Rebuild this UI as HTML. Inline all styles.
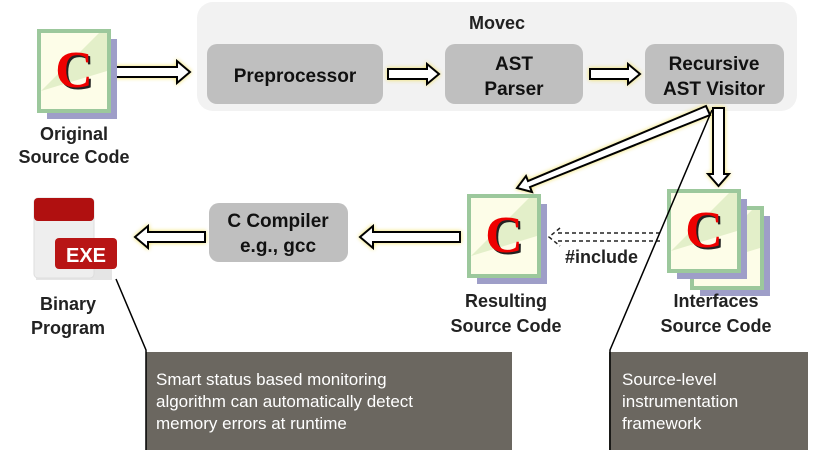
<!DOCTYPE html>
<html><head><meta charset="utf-8"><style>
body{margin:0;background:#fff;width:819px;height:450px;overflow:hidden}
svg text{font-family:"Liberation Sans","DejaVu Sans",sans-serif}
svg text.c{font-family:"Liberation Serif",serif}
</style></head><body>
<svg width="819" height="450" viewBox="0 0 819 450" xmlns="http://www.w3.org/2000/svg">
<defs>
<g id="cdoc">
  <rect x="8" y="8" width="70" height="80" fill="#9e9ec8"/>
  <rect x="0" y="0" width="70" height="80" fill="#fdfde8" stroke="#9cc89c" stroke-width="4"/>
  <path d="M2 60 L60 2 L68 2 L68 40 Z" fill="#dcebc0" opacity="0.8"/>
  <text class="c" x="37" y="58" text-anchor="middle" font-weight="bold" font-size="52" fill="#222">C</text>
  <text class="c" x="35" y="56" text-anchor="middle" font-weight="bold" font-size="52" fill="#e00">C</text>
</g>
</defs>
<rect x="197" y="2" width="600" height="109" rx="16" fill="#f2f2f2"/>
<text x="497" y="29" text-anchor="middle" font-size="18" font-weight="bold" fill="#222">Movec</text>
<rect x="207" y="44" width="176" height="60" rx="10" fill="#bfbfbf"/>
<text x="295" y="82" text-anchor="middle" font-size="19" font-weight="bold" fill="#111">Preprocessor</text>
<rect x="445" y="44" width="138" height="60" rx="10" fill="#bfbfbf"/>
<text x="514" y="70" text-anchor="middle" font-size="19" font-weight="bold" fill="#111">AST</text>
<text x="514" y="95" text-anchor="middle" font-size="19" font-weight="bold" fill="#111">Parser</text>
<rect x="645" y="44" width="139" height="60" rx="10" fill="#bfbfbf"/>
<text x="714" y="70" text-anchor="middle" font-size="19" font-weight="bold" fill="#111">Recursive</text>
<text x="714" y="95" text-anchor="middle" font-size="19" font-weight="bold" fill="#111">AST Visitor</text>

<g fill="#fff" stroke="#000" stroke-width="2" stroke-linejoin="miter">
  <g style="filter:drop-shadow(0 0 2px #f0e060)">
  <path d="M115 67 H177 V61 L190 72 L177 83 V77 H115 Z"/>
  <path d="M388 69 H427 V64 L439 74 L427 84 V79 H388 Z"/>
  <path d="M590 69 H628 V64 L640 74 L628 84 V79 H590 Z"/>
  <path d="M205 232 H148 V226 L135 237 L148 248 V242 H205 Z"/>
  <path d="M460 232 H373 V226 L360 237 L373 248 V242 H460 Z"/>
  <path d="M713 108 H724 V174 H729 L718.5 186 L708 174 H713 Z"/>
  <path d="M706 106 L710 115 L530 187 L532 192 L517 188 L526 176 L528 181 Z"/>
  </g>
</g>
<g fill="none" stroke="#222" stroke-width="1.5" stroke-dasharray="4,3">
  <path d="M660 233 H556 M660 241 H556 M560 228 L549 237 L560 246"/>
</g>
<text x="565" y="263" font-size="18" font-weight="bold" fill="#222">#include</text>

<use href="#cdoc" x="39" y="31"/>
<text x="74" y="140" text-anchor="middle" font-size="18" font-weight="bold" fill="#222">Original</text>
<text x="74" y="163" text-anchor="middle" font-size="18" font-weight="bold" fill="#222">Source Code</text>

<use href="#cdoc" x="469" y="196"/>
<text x="506" y="307" text-anchor="middle" font-size="18" font-weight="bold" fill="#222">Resulting</text>
<text x="506" y="332" text-anchor="middle" font-size="18" font-weight="bold" fill="#222">Source Code</text>

<use href="#cdoc" x="692" y="208"/>
<use href="#cdoc" x="669" y="191"/>
<text x="716" y="307" text-anchor="middle" font-size="18" font-weight="bold" fill="#222">Interfaces</text>
<text x="716" y="332" text-anchor="middle" font-size="18" font-weight="bold" fill="#222">Source Code</text>

<rect x="36" y="250" width="76" height="30" fill="#ccc" opacity="0.5"/>
<rect x="34" y="198" width="60" height="80" rx="4" fill="#eee" stroke="#ddd"/>
<rect x="34" y="198" width="60" height="23" rx="4" fill="#b01010"/>
<rect x="55" y="238" width="62" height="31" rx="4" fill="#b81515"/>
<text x="86" y="262" text-anchor="middle" font-size="20" font-weight="bold" fill="#fff">EXE</text>
<text x="68" y="310" text-anchor="middle" font-size="18" font-weight="bold" fill="#222">Binary</text>
<text x="68" y="334" text-anchor="middle" font-size="18" font-weight="bold" fill="#222">Program</text>

<rect x="209" y="203" width="139" height="59" rx="10" fill="#bfbfbf"/>
<text x="278" y="227" text-anchor="middle" font-size="19" font-weight="bold" fill="#111">C Compiler</text>
<text x="278" y="252" text-anchor="middle" font-size="19" font-weight="bold" fill="#111">e.g., gcc</text>

<rect x="146" y="352" width="366" height="98" fill="#6b6760"/>
<rect x="609" y="352" width="199" height="98" fill="#6b6760"/>
<path d="M116 279 L146 350 V450" fill="none" stroke="#000" stroke-width="1.5"/>
<path d="M712 110 L610 350 V450" fill="none" stroke="#000" stroke-width="1.5"/>
<g font-size="17" fill="#fff">
<text x="156" y="385">Smart status based monitoring</text>
<text x="156" y="407">algorithm can automatically detect</text>
<text x="156" y="429">memory errors at runtime</text>
<text x="622" y="385">Source-level</text>
<text x="622" y="407">instrumentation</text>
<text x="622" y="429">framework</text>
</g>
</svg>
</body></html>
